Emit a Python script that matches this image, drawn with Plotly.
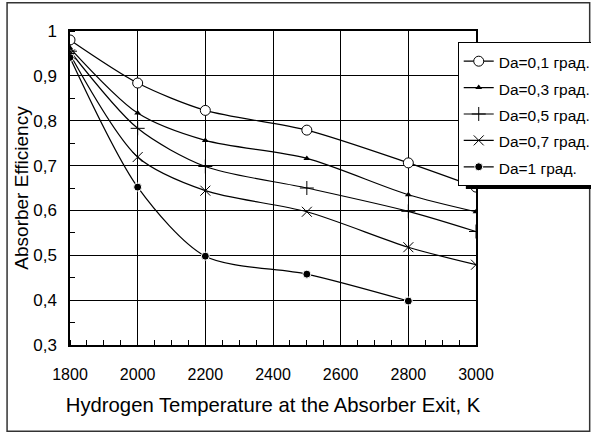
import plotly.graph_objects as go

# Hydrogen exit temperature, K
temps = [1800, 2000, 2200, 2500, 2800, 3000]
temps_da1 = [1800, 2000, 2200, 2500, 2800]

# Absorber efficiency for each angular divergence Da
eff_da01 = [0.980, 0.884, 0.823, 0.779, 0.706, 0.652]
eff_da03 = [0.962, 0.817, 0.756, 0.716, 0.635, 0.597]
eff_da05 = [0.955, 0.783, 0.698, 0.650, 0.598, 0.553]
eff_da07 = [0.948, 0.719, 0.644, 0.597, 0.518, 0.479]
eff_da1 = [0.941, 0.652, 0.498, 0.458, 0.398]

series_names = ["Da=0,1 град.", "Da=0,3 град.", "Da=0,5 град.",
                "Da=0,7 град.", "Da=1 град."]

x_tickvals = [1800, 2000, 2200, 2400, 2600, 2800, 3000]
x_ticktext = ["1800", "2000", "2200", "2400", "2600", "2800", "3000"]
y_tickvals = [0.3, 0.4, 0.5, 0.6, 0.7, 0.8, 0.9, 1.0]
y_ticktext = ["0,3", "0,4", "0,5", "0,6", "0,7", "0,8", "0,9", "1"]

FONT = "Liberation Sans, Arial, sans-serif"

markers = [
    dict(symbol="circle", size=10, color="white", line=dict(color="black", width=1)),
    dict(symbol="triangle-up", size=6, color="black", line=dict(color="black", width=0)),
    dict(symbol="cross-thin-open", size=10, color="black", line=dict(color="black", width=1)),
    dict(symbol="x-thin-open", size=10, color="black", line=dict(color="black", width=1)),
    dict(symbol="circle", size=8, color="black", line=dict(color="white", width=1)),
]

xs = [temps, temps, temps, temps, temps_da1]
ys = [eff_da01, eff_da03, eff_da05, eff_da07, eff_da1]

fig = go.Figure()
for name, x, y, mk in zip(series_names, xs, ys, markers):
    fig.add_trace(go.Scatter(
        x=x, y=y,
        # legend rows are sized by the legend font; the label itself is drawn smaller
        name=f'<span style="font-size:15.5px">{name}</span>',
        mode="lines+markers",
        line=dict(color="black", width=1.2, shape="spline", smoothing=0.8),
        marker=mk,
    ))

# Outer frame around the whole figure
fig.add_shape(type="rect", xref="paper", yref="paper",
              x0=-0.155, x1=1.28, y0=-0.275, y1=1.09,
              line=dict(color="#333", width=1.5), layer="below")
# Heavy bar under the legend box
fig.add_shape(type="rect", xref="paper", yref="paper",
              x0=0.975, x1=1.3, y0=0.497, y1=0.512,
              line=dict(width=0), fillcolor="black", layer="above")

axis_common = dict(showline=True, linecolor="black", linewidth=1.5, mirror=True,
                   showgrid=True, gridcolor="black", gridwidth=1,
                   ticks="", zeroline=False)

fig.update_xaxes(
    range=[1800, 3000], tickvals=x_tickvals, ticktext=x_ticktext,
    tickfont=dict(family=FONT, size=16, color="black"),
    ticklabelstandoff=14,
    minor=dict(dtick=50, tick0=1800, ticks="inside", ticklen=5,
               tickcolor="black", showgrid=False),
    title=dict(text="Hydrogen Temperature at the Absorber Exit, K",
               font=dict(family=FONT, size=20.3, color="black"), standoff=16),
    **axis_common,
)
fig.update_yaxes(
    range=[0.3, 1.0], tickvals=y_tickvals, ticktext=y_ticktext,
    tickfont=dict(family=FONT, size=17, color="black"),
    ticklabelstandoff=8,
    minor=dict(dtick=0.05, tick0=0.3, ticks="inside", ticklen=5,
               tickcolor="black", showgrid=False),
    title=dict(text="Absorber Efficiency",
               font=dict(family=FONT, size=19, color="black"), standoff=0),
    **axis_common,
)

fig.update_layout(
    width=591, height=435,
    margin=dict(l=70, r=115, t=31, b=90, autoexpand=False),
    paper_bgcolor="white", plot_bgcolor="white",
    showlegend=True,
    legend=dict(x=0.955, y=0.965, xanchor="left", yanchor="top",
                bgcolor="white", bordercolor="black", borderwidth=1,
                font=dict(family=FONT, size=18, color="black"),
                itemwidth=30, tracegroupgap=0),
)

fig.write_html("out.html")
